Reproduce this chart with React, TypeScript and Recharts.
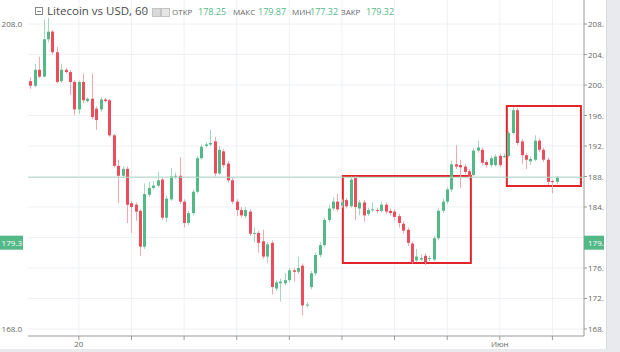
import { ComposedChart, Bar, XAxis, YAxis, CartesianGrid, ReferenceArea, ReferenceLine } from "recharts";

// hourly candles
const opens = [
  200.5, 199.9, 202.0, 201.1, 206.0, 207.0, 204.3, 200.5, 202.0, 201.7,
  200.4, 196.8, 200.4, 197.9, 198.2, 196.9, 196.8, 198.1, 198.0, 193.4,
  189.4, 188.1, 189.0, 184.5, 184.3, 183.5, 178.8, 185.6, 186.5, 186.8,
  187.6, 182.6, 185.0, 188.0, 188.1, 184.7, 181.9, 183.2, 186.0, 190.4,
  192.0, 192.2, 192.6, 188.4, 191.3, 189.7, 187.5, 184.7, 183.6, 182.8,
  183.4, 180.5, 180.6, 179.5, 177.5, 179.3, 173.3, 174.0, 174.0, 174.4,
  175.7, 175.5, 176.3, 171.1, 173.5, 175.3, 177.7, 179.0, 182.3, 183.8,
  184.7, 184.2, 184.9, 184.1, 187.8, 183.8, 184.6, 183.1, 183.6, 183.6,
  183.5, 184.3, 183.5, 183.4, 182.8, 181.8, 181.0, 179.2, 177.0, 177.1,
  177.6, 177.2, 177.1, 179.9, 183.5, 184.7, 186.3, 189.6, 189.5, 189.3,
  188.7, 188.2, 191.4, 191.5, 189.9, 189.5, 189.5, 190.7, 190.6, 190.7,
  193.7, 196.7, 192.6, 190.8, 190.0, 190.2, 192.7, 191.5, 190.2, 187.4,
  187.3,
];
const highs = [
  201.0, 202.8, 203.7, 208.6, 208.8, 207.2, 205.0, 202.8, 202.2, 202.0,
  200.6, 200.6, 201.5, 198.4, 201.5, 197.2, 198.4, 198.3, 198.2, 193.6,
  190.2, 189.3, 189.3, 184.8, 184.6, 183.7, 187.1, 187.3, 187.4, 188.6,
  187.8, 185.5, 189.1, 188.5, 190.5, 185.0, 183.5, 186.3, 190.7, 192.2,
  192.5, 194.1, 193.2, 192.0, 191.6, 190.0, 187.8, 185.0, 184.0, 184.0,
  183.7, 181.3, 180.9, 181.0, 179.4, 179.6, 174.4, 174.6, 175.3, 176.0,
  176.0, 177.5, 176.6, 171.5, 175.6, 178.0, 179.4, 182.6, 184.3, 185.3,
  185.7, 185.0, 185.2, 188.0, 188.0, 184.9, 184.9, 183.9, 184.6, 183.9,
  184.7, 184.6, 183.8, 183.7, 183.1, 182.1, 181.3, 179.5, 178.5, 177.8,
  177.9, 177.6, 180.2, 183.8, 185.1, 186.6, 190.0, 192.1, 190.2, 189.6,
  189.0, 191.7, 192.7, 191.8, 190.2, 190.7, 190.9, 191.0, 191.0, 194.0,
  197.1, 197.0, 192.9, 191.1, 190.6, 193.4, 193.0, 191.8, 190.5, 187.6,
  188.1,
];
const lows = [
  199.5, 199.7, 200.9, 201.0, 205.6, 204.0, 200.2, 200.3, 201.5, 198.7,
  196.1, 196.2, 197.6, 197.7, 195.5, 194.1, 196.5, 197.7, 193.2, 189.2,
  184.5, 187.8, 181.9, 180.6, 182.2, 177.6, 178.5, 185.3, 186.3, 186.6,
  182.3, 182.0, 184.8, 187.7, 184.4, 181.3, 181.6, 182.9, 185.8, 190.2,
  191.8, 192.0, 188.0, 188.2, 189.2, 187.2, 184.4, 182.8, 182.6, 182.5,
  180.2, 179.4, 178.0, 177.2, 176.6, 172.5, 173.0, 171.6, 173.7, 174.1,
  174.2, 175.2, 169.8, 170.8, 173.2, 175.0, 177.4, 178.7, 182.0, 183.5,
  183.4, 183.9, 183.8, 183.9, 182.3, 182.9, 182.1, 182.8, 183.4, 183.2,
  183.3, 183.1, 182.9, 182.2, 181.3, 180.5, 178.9, 176.6, 176.8, 176.9,
  176.4, 176.9, 176.9, 179.6, 183.2, 184.4, 186.0, 189.0, 186.5, 188.3,
  187.6, 188.0, 191.1, 189.5, 189.2, 189.2, 189.3, 189.2, 190.4, 190.5,
  193.5, 192.1, 189.6, 189.0, 189.5, 190.0, 191.2, 189.9, 186.9, 185.8,
  187.0,
];
const closes = [
  199.9, 202.0, 201.1, 206.0, 207.0, 204.3, 200.4, 202.0, 201.7, 200.4,
  196.8, 200.4, 198.0, 198.2, 195.8, 195.4, 198.1, 197.9, 193.4, 189.4,
  188.1, 189.0, 184.3, 184.0, 183.4, 178.8, 185.7, 186.5, 186.8, 187.5,
  182.6, 185.1, 188.0, 188.1, 184.7, 181.9, 183.2, 186.0, 190.4, 191.9,
  192.2, 192.4, 188.4, 191.5, 189.5, 187.5, 184.7, 183.6, 182.9, 183.6,
  180.5, 180.6, 179.3, 177.5, 179.1, 173.5, 174.1, 174.2, 174.4, 175.7,
  175.5, 176.0, 171.1, 171.2, 175.3, 177.7, 179.0, 182.3, 183.8, 184.7,
  183.7, 184.6, 184.1, 187.6, 184.0, 184.6, 182.9, 183.6, 183.7, 183.5,
  184.3, 183.4, 183.2, 182.7, 181.9, 180.9, 179.3, 176.7, 177.5, 177.3,
  176.7, 177.3, 179.9, 183.5, 184.7, 186.3, 189.6, 189.3, 189.2, 188.6,
  188.0, 191.4, 191.8, 189.8, 189.5, 190.4, 190.6, 189.5, 190.7, 193.7,
  196.7, 192.4, 190.8, 190.2, 190.3, 192.7, 191.5, 190.2, 187.3, 187.3,
  187.9,
];

const priceTicks = [168, 172, 176, 180, 184, 188, 192, 196, 200, 204, 208];
const timeTicks = [11, 23, 35, 47, 59, 71, 83, 95, 107, 119];
const timeLabels: Record<number, string> = { 11: "20", 107: "Июн" };
const closeTag = 179.32;

// red highlight boxes: [x1, x2] in candle index, [y1, y2] in price
const boxX = [[71.2, 100.4], [108.6, 125.5]];
const boxY = [[176.66, 188.07], [186.75, 197.25]];

// header legend
const legendLabels = ["ОТКР", "МАКС", "МИН", "ЗАКР"];
const legendValues = ["178.25", "179.87", "177.32", "179.32"];

const GREEN = "#53b987";
const RED = "#eb4d5c";
const FONT = "'Open Sans', sans-serif";

const rows = opens.map((o, i) => ({ i, o, h: highs[i], l: lows[i], c: closes[i] }));
const lastClose = closes[closes.length - 1];
// the price tag hides the label it sits on
const rightTicks = [...priceTicks.filter((p) => Math.abs(p - closeTag) > 2), closeTag];

function Candle(props: any) {
  const { x, y, width, height, payload } = props;
  if (!payload || height == null) return null;
  const { o, c, h, l } = payload;
  const top = Math.min(y, y + height);
  const span = Math.abs(height);
  const px = (p: number) => top + ((h - p) / (h - l || 1)) * span;
  const cx = Math.round(x + width / 2 - 0.5) + 0.5;
  const up = c >= o;
  const y1 = px(Math.max(o, c));
  const y2 = px(Math.min(o, c));
  return (
    <g>
      <line x1={cx} x2={cx} y1={top} y2={top + span} stroke={up ? "#a3d8be" : "#f3a7ae"} />
      <rect x={cx - 1.5} y={y1} width={3} height={Math.max(1, y2 - y1)} fill={up ? GREEN : RED} />
    </g>
  );
}

function RightTick(props: any) {
  const { x, y, payload } = props;
  const v = payload.value;
  if (v === closeTag) {
    return (
      <g>
        <rect x={x - 4} y={y - 7} width={30} height={14} fill={GREEN} />
        <text x={x} y={y} dy={3} fontSize={8} fontFamily={FONT} fill="#fff">{v.toFixed(2)}</text>
      </g>
    );
  }
  return <text x={x} y={y} dy={3} fontSize={8} fontFamily={FONT} fill="#666">{v.toFixed(1)}</text>;
}

function LeftTick(props: any) {
  const { x, y, payload } = props;
  const v = payload.value;
  if (v === closeTag) {
    return (
      <g>
        <rect x={0} y={y - 7} width={23} height={14} fill={GREEN} />
        <text x={x} y={y} dy={3} textAnchor="end" fontSize={8} fontFamily={FONT} fill="#fff">{v.toFixed(1)}</text>
      </g>
    );
  }
  return <text x={x} y={y} dy={3} textAnchor="end" fontSize={8} fontFamily={FONT} fill="#666">{v.toFixed(1)}</text>;
}

export default function App() {
  const domain = [167.08, 211.15];
  const labelX = [172, 233, 292, 341];
  const valueX = [198, 258, 310, 366];
  return (
    <div style={{ position: "absolute", left: 0, top: 0, width: 620, height: 352, background: "#e8eaee", overflow: "hidden" }}>
      <div style={{ position: "absolute", left: 0, top: 0, width: 606, height: 349, background: "#fff", borderRight: "1px solid #d8dbe0", overflow: "hidden" }}>
        <ComposedChart width={604} height={350} data={rows} margin={{ top: 0, right: 0, left: 0, bottom: 0 }}>
          <CartesianGrid yAxisId="r" stroke="#eef0f4" horizontalValues={priceTicks} verticalValues={timeTicks} />
          <XAxis
            dataKey="i"
            type="number"
            domain={[-0.6, 126.2]}
            ticks={timeTicks}
            height={14}
            interval={0}
            tickSize={4}
            tickMargin={1}
            stroke="#9a9a9a"
            tick={{ fontSize: 8, fill: "#666", fontFamily: FONT }}
            tickFormatter={(v: number) => timeLabels[v] || ""}
            allowDataOverflow
          />
          <YAxis
            yAxisId="l"
            orientation="left"
            width={28}
            domain={domain}
            ticks={[168, closeTag, 208]}
            axisLine={false}
            tickLine={false}
            tickSize={6}
            tickMargin={0}
            tick={<LeftTick />}
            allowDataOverflow
          />
          <YAxis
            yAxisId="r"
            orientation="right"
            width={20}
            domain={domain}
            ticks={rightTicks}
            interval={0}
            tickSize={3}
            tickMargin={1}
            stroke="#9a9a9a"
            tick={<RightTick />}
            allowDataOverflow
          />
          <ReferenceLine yAxisId="r" y={lastClose} stroke="#aedcc5" />
          <Bar yAxisId="r" dataKey={(d: any) => [d.l, d.h]} barSize={3} shape={<Candle />} isAnimationActive={false} />
          {boxX.map((bx, k) => (
            <ReferenceArea
              key={k}
              yAxisId="r"
              x1={bx[0]}
              x2={bx[1]}
              y1={boxY[k][0]}
              y2={boxY[k][1]}
              fill="none"
              fillOpacity={0}
              stroke="#e3242b"
              strokeWidth={2}
              strokeOpacity={1}
            />
          ))}
        </ComposedChart>

        {/* legend header */}
        <div style={{ position: "absolute", left: 35, top: 7, width: 8, height: 8, border: "1px solid #888", boxSizing: "border-box" }}>
          <div style={{ position: "absolute", left: 1, top: 3, width: 4, height: 1, background: "#888" }} />
        </div>
        <div style={{ position: "absolute", left: 47, top: 3, fontFamily: FONT, fontSize: 11.5, color: "#4a4a4a", whiteSpace: "nowrap" }}>
          Litecoin vs USD, 60
        </div>
        <div style={{ position: "absolute", left: 142, top: 11, width: 4, height: 1, background: "#b8b8b8" }} />
        <div style={{ position: "absolute", left: 152, top: 8, width: 7, height: 7, background: "#d9d9d9", border: "1px solid #c4c4c4" }} />
        <div style={{ position: "absolute", left: 161, top: 8, width: 7, height: 7, background: "#e6e6e6", border: "1px solid #c4c4c4" }} />
        {legendLabels.map((lab, k) => (
          <div key={lab}>
            <div style={{ position: "absolute", left: labelX[k], top: 7, fontFamily: FONT, fontSize: 8, lineHeight: "10px", color: "#666", whiteSpace: "nowrap" }}>
              {lab}
            </div>
            <div style={{ position: "absolute", left: valueX[k], top: 5, fontFamily: FONT, fontSize: 9, lineHeight: "13px", color: GREEN, whiteSpace: "nowrap" }}>
              {legendValues[k]}
            </div>
          </div>
        ))}
      </div>
    </div>
  );
}
